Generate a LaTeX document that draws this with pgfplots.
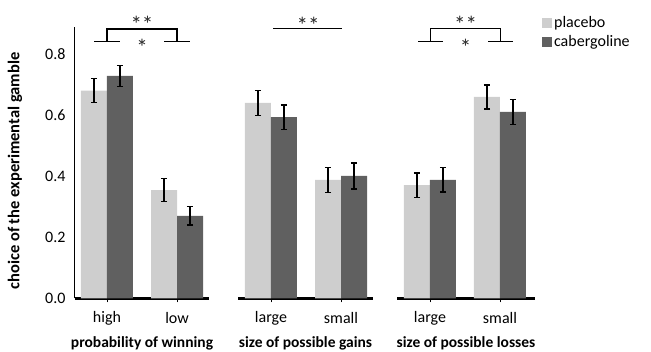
\documentclass[border=0pt]{standalone}
\usepackage{fontspec}
\setmainfont{Carlito}
\usepackage{pgfplots}
\pgfplotsset{compat=1.18}
\definecolor{lightbar}{RGB}{206,206,206}
\definecolor{darkbar}{RGB}{96,96,96}
\newcommand{\regfont}{\fontsize{16}{19}\selectfont}
\newcommand{\boldfont}{\fontsize{15.5}{18}\selectfont\bfseries}
\newcommand{\ylabfont}{\fontsize{16.5}{19}\selectfont\bfseries}
\newcommand{\starfont}{\fontsize{23}{25}\selectfont}
\tikzset{sigstar/.style={font=\starfont, anchor=base, text=black!85, inner sep=0pt}}
\pgfplotsset{
  panel/.style={
    scale only axis, height=271.45pt, ymin=0, ymax=0.89,
    ybar=0pt, bar width=26pt, clip=false,
    xtick={0,1},
    axis x line*=bottom, x axis line style={line width=2.6pt,-},
    tick align=outside, xtick style={black,line width=0.8pt}, major tick length=4pt,
    xticklabel style={font=\regfont, anchor=center, yshift=-16pt},
    every axis x label/.style={at={(axis description cs:0.5,0)}, anchor=center, yshift=-45pt, font=\boldfont},
    error bars/y dir=both, error bars/y explicit,
    error bars/error bar style={line width=1.4pt,draw=black},
    error bars/error mark=|,
    error bars/error mark options={line width=1.4pt, mark size=3.2pt, draw=black, fill=black},
    /pgf/number format/assume math mode=true,
    legend image code/.code={\fill[##1] (0pt,-5pt) rectangle (10pt,5pt);},
  },
  placebo/.style={fill=lightbar, draw=none},
  caber/.style={fill=darkbar, draw=none},
}
\begin{document}
\begin{tikzpicture}
\useasboundingbox (0,0) rectangle (651pt,352pt);
% Panel 1
\begin{axis}[panel, at={(75pt,53.7pt)}, anchor=south west,
  width=134pt, xmin=-0.457, xmax=1.457,
  xticklabels={high,low},
  xlabel={probability of winning},
  axis y line*=left, y axis line style={line width=1pt,-},
  ytick={0,0.2,0.4,0.6,0.8}, ytick style={draw=none},
  yticklabel style={font=\regfont, xshift=-2pt,
    /pgf/number format/.cd, fixed, fixed zerofill, precision=1},
  ylabel={choice of the experimental gamble},
  every axis y label/.style={at={(rel axis cs:-0.448,0.469)}, anchor=center, rotate=90, font=\ylabfont},
]
\addplot[placebo] coordinates {(0,0.681) +- (0,0.039) (1,0.355) +- (0,0.038)};
\addplot[caber] coordinates {(0,0.729) +- (0,0.034) (1,0.270) +- (0,0.030)};
\draw[line width=1.2pt] (axis cs:-0.18,0.841) -- (axis cs:0.18,0.841);
\draw[line width=1.2pt] (axis cs:0,0.841) -- (axis cs:0,0.883) -- (axis cs:1,0.883) -- (axis cs:1,0.841);
\draw[line width=1.2pt] (axis cs:0.82,0.841) -- (axis cs:1.18,0.841);
\node[sigstar] at (axis cs:0.5,0.872) {**};
\node[sigstar] at (axis cs:0.5,0.797) {*};
\end{axis}
% Panel 2
\begin{axis}[panel, at={(238pt,53.7pt)}, anchor=south west,
  width=135pt, xmin=-0.471, xmax=1.457,
  xticklabels={large,small},
  xlabel={size of possible gains},
  axis y line=none,
]
\addplot[placebo] coordinates {(0,0.641) +- (0,0.041) (1,0.388) +- (0,0.041)};
\addplot[caber] coordinates {(0,0.594) +- (0,0.040) (1,0.401) +- (0,0.042)};
\draw[line width=1.2pt] (axis cs:0.03,0.885) -- (axis cs:1.01,0.885);
\node[sigstar] at (axis cs:0.53,0.869) {**};
\end{axis}
% Panel 3
\begin{axis}[panel, at={(397pt,53.7pt)}, anchor=south west,
  width=138pt, xmin=-0.471, xmax=1.5,
  xticklabels={large,small},
  xlabel={size of possible losses},
  axis y line=none,
  legend style={draw=none, fill=none, at={(rel axis cs:1.05,1.045)}, anchor=north west,
    font=\regfont, inner sep=0pt, row sep=2pt, cells={anchor=west}},
]
\addplot[placebo] coordinates {(0,0.371) +- (0,0.040) (1,0.660) +- (0,0.039)};
\addplot[caber] coordinates {(0,0.388) +- (0,0.040) (1,0.611) +- (0,0.041)};
\legend{placebo,cabergoline}
\draw[line width=1.2pt] (axis cs:-0.17,0.841) -- (axis cs:0.19,0.841);
\draw[line width=1.2pt] (axis cs:0.01,0.841) -- (axis cs:0.01,0.885) -- (axis cs:1.01,0.885) -- (axis cs:1.01,0.841);
\draw[line width=1.2pt] (axis cs:0.83,0.841) -- (axis cs:1.19,0.841);
\node[sigstar] at (axis cs:0.51,0.872) {**};
\node[sigstar] at (axis cs:0.51,0.797) {*};
\end{axis}
\end{tikzpicture}
\end{document}
